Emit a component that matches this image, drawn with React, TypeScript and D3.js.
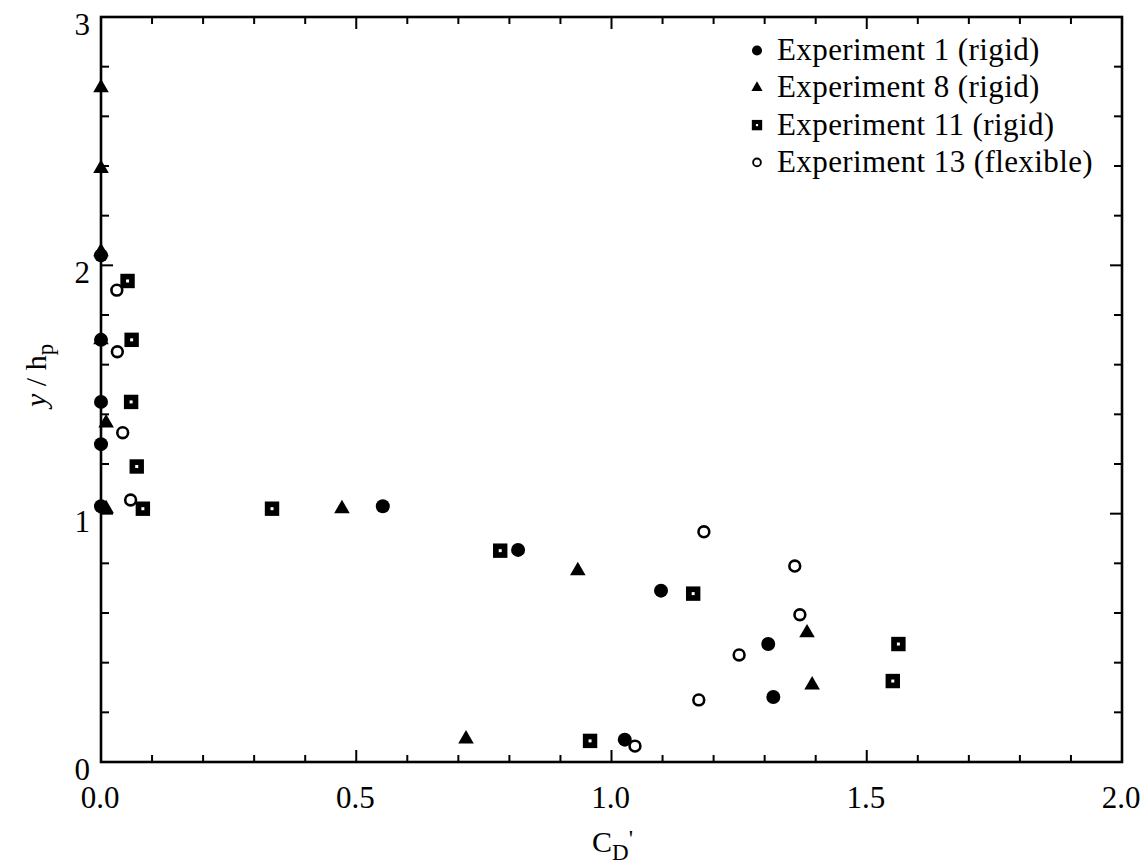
import React from "react";
import * as d3 from "d3";

// ---- data ----
const exp1X = [0.0, 0.0, 0.0, 0.0, 0.0, 0.552, 0.817, 1.097, 1.307, 1.317, 1.026];
const exp1Y = [2.04, 1.7, 1.45, 1.28, 1.03, 1.03, 0.854, 0.69, 0.475, 0.262, 0.09];

const exp8X = [0.0, 0.0, 0.0, 0.0, 0.01, 0.01, 0.472, 0.934, 1.383, 1.393, 0.715];
const exp8Y = [2.715, 2.39, 2.055, 1.7, 1.365, 1.02, 1.02, 0.77, 0.52, 0.31, 0.093];

const exp11X = [0.052, 0.06, 0.059, 0.07, 0.082, 0.335, 0.782, 1.16, 1.562, 1.551, 0.958];
const exp11Y = [1.937, 1.7, 1.45, 1.19, 1.02, 1.02, 0.851, 0.678, 0.475, 0.326, 0.085];

const exp13X = [0.031, 0.032, 0.0425, 0.058, 1.181, 1.359, 1.369, 1.25, 1.171, 1.046];
const exp13Y = [1.9, 1.652, 1.326, 1.055, 0.927, 0.789, 0.593, 0.431, 0.25, 0.064];

const legendLabels = [
  "Experiment 1 (rigid)",
  "Experiment 8 (rigid)",
  "Experiment 11 (rigid)",
  "Experiment 13 (flexible)",
];
const xTickLabels = ["0.0", "0.5", "1.0", "1.5", "2.0"];
const yTickLabels = ["0", "1", "2", "3"];

const W = 1147;
const H = 865;
const L = 101, R = 1122, T = 17, B = 762;
const FONT = "'Liberation Serif', 'Times New Roman', serif";

type Kind = "circle" | "triangle" | "square" | "open";

function Marker({ kind, x, y, s = 1 }: { kind: Kind; x: number; y: number; s?: number }) {
  if (kind === "circle") {
    return <circle cx={x} cy={y} r={7 * s} fill="#000" />;
  }
  if (kind === "open") {
    return <circle cx={x} cy={y} r={5.4 * s} fill="#fff" stroke="#000" strokeWidth={2.6 * s} />;
  }
  if (kind === "triangle") {
    const p = d3.symbol().type(d3.symbolTriangle).size(105 * s * s)();
    return <path d={p || ""} transform={`translate(${x},${y})`} fill="#000" />;
  }
  const h = 7.2 * s;
  return (
    <g>
      <rect x={x - h} y={y - h} width={2 * h} height={2 * h} fill="#000" />
      <rect x={x - 1.5 * s} y={y - 1.5 * s} width={3 * s} height={3 * s} fill="#fff" />
    </g>
  );
}

export default function App() {
  const xs = d3.scaleLinear().domain([0, 2]).range([L, R]);
  const ys = d3.scaleLinear().domain([0, 3]).range([B, T]);

  const xMinor = d3.range(0, 21).map((i) => i / 10);
  const yMinor = d3.range(0, 16).map((i) => i / 5);
  const isXMajor = (v: number) => Math.abs(v * 2 - Math.round(v * 2)) < 1e-6;
  const isYMajor = (v: number) => Math.abs(v - Math.round(v)) < 1e-6;

  const series: { kind: Kind; xs: number[]; ys: number[] }[] = [
    { kind: "circle", xs: exp1X, ys: exp1Y },
    { kind: "triangle", xs: exp8X, ys: exp8Y },
    { kind: "square", xs: exp11X, ys: exp11Y },
    { kind: "open", xs: exp13X, ys: exp13Y },
  ];
  const legendKinds: Kind[] = ["circle", "triangle", "square", "open"];

  return (
    <svg
      width={W}
      height={H}
      style={{ position: "absolute", left: 0, top: 0, background: "#fff" }}
      fontFamily={FONT}
    >
      <rect x={0} y={0} width={W} height={H} fill="#fff" />
      {/* ticks */}
      {xMinor.map((v, i) => {
        const len = isXMajor(v) ? 12 : 7;
        const x = xs(v);
        return (
          <g key={"xt" + i} stroke="#000" strokeWidth={2}>
            <line x1={x} x2={x} y1={B} y2={B - len} />
            <line x1={x} x2={x} y1={T} y2={T + len} />
          </g>
        );
      })}
      {yMinor.map((v, i) => {
        const len = isYMajor(v) ? 12 : 8;
        const y = ys(v);
        return (
          <g key={"yt" + i} stroke="#000" strokeWidth={2}>
            <line x1={L} x2={L + len} y1={y} y2={y} />
            <line x1={R} x2={R - len} y1={y} y2={y} />
          </g>
        );
      })}
      {/* frame */}
      <rect x={L} y={T} width={R - L} height={B - T} fill="none" stroke="#000" strokeWidth={2.6} />

      {/* tick labels */}
      {xTickLabels.map((t) => (
        <text key={"xl" + t} x={xs(+t) - 1} y={808} fontSize={31} textAnchor="middle" fill="#000">
          {t}
        </text>
      ))}
      {yTickLabels.map((t) => (
        <text key={"yl" + t} x={90} y={ys(+t) + 18} fontSize={31} textAnchor="end" fill="#000">
          {t}
        </text>
      ))}

      {/* axis titles */}
      <text x={592} y={852} fontSize={30} fill="#000">
        C
        <tspan fontSize={23} dy={8}>D</tspan>
        <tspan fontSize={24} dy={-14}>'</tspan>
      </text>
      <text transform="translate(46,407) rotate(-90)" fontSize={30} fill="#000">
        <tspan fontStyle="italic">y</tspan>
        <tspan> / h</tspan>
        <tspan fontSize={23} dy={7}>p</tspan>
      </text>

      {/* data */}
      {series.map((s, si) =>
        s.xs.map((v, i) => (
          <Marker key={`m${si}-${i}`} kind={s.kind} x={xs(v)} y={ys(s.ys[i])} />
        ))
      )}

      {/* legend */}
      {legendLabels.map((lab, i) => {
        const base = 60 + i * 37.3;
        return (
          <g key={"lg" + i}>
            <Marker kind={legendKinds[i]} x={757} y={base - 9.5} s={0.72} />
            <text x={777} y={base} fontSize={31} letterSpacing={0.4} fill="#000">
              {lab}
            </text>
          </g>
        );
      })}
    </svg>
  );
}
